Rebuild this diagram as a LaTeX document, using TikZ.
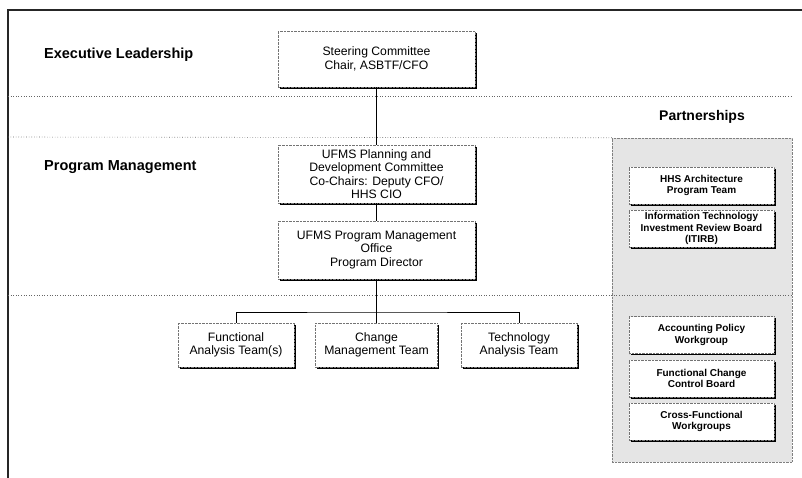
\documentclass[tikz,border=0pt]{standalone}
\usepackage{fontspec}
\setmainfont{Liberation Sans}
\usetikzlibrary{shadows}
\begin{document}
\begin{tikzpicture}[x=1pt,y=-1pt,
  frameline/.style={line width=1.1pt,black!85},
  sepline/.style={line width=0.6pt,black!60,dotted},
  orgbox/.style={draw=black!55,densely dotted,fill=white,align=center,inner sep=1pt,
     drop shadow={shadow xshift=1.8pt,shadow yshift=-1.8pt,fill=black,opacity=1},
     font=\fontsize{12.2}{13.3}\selectfont},
  teambox/.style={orgbox,minimum width=116pt,minimum height=44pt,font=\fontsize{12.2}{12.5}\selectfont},
  partbox/.style={orgbox,minimum width=145pt,minimum height=37pt,font=\bfseries\fontsize{10}{11.5}\selectfont},
  level/.style={anchor=west,inner sep=0pt,font=\bfseries\fontsize{14.5}{16}\selectfont},
  conn/.style={line width=0.9pt,black}]
\useasboundingbox (0,0) rectangle (802,478);
% frame
\coordinate (tl) at (8,10);
\coordinate (tr) at (802,10);
\coordinate (bl) at (8,478);
\draw[frameline] (tr) -- (tl) -- (bl);
% partnership panel
\node[draw=black!50,densely dotted,fill=black!10,minimum width=180pt,minimum height=324pt,inner sep=0pt] (panel) at (702,300) {};
% separator lines
\draw[sepline] (8,96) -- (793,96);
\draw[sepline] (8,137) -- (panel.north west);
\draw[sepline] (8,295) -- (791,295);
% level labels
\node[level] (exec) at (44,55) {Executive Leadership};
\node[level] (prog) at (44,167) {Program Management};
\node[font=\bfseries\fontsize{14}{16}\selectfont] (partn) at (702,117) {Partnerships};
% main boxes
\node[orgbox,minimum width=197pt,minimum height=56pt] (steer) at (376.5,59) {Steering Committee\\Chair, ASBTF/CFO};
\node[orgbox,minimum width=197pt,minimum height=58pt] (plan) at (376.5,174) {UFMS Planning and\\Development Committee\\Co-Chairs: Deputy CFO/\\HHS CIO};
\node[orgbox,minimum width=197pt,minimum height=58pt] (pmo) at (376.5,250) {UFMS Program Management\\Office\\Program Director};
\node[teambox] (func) at (236,345) {Functional\\Analysis Team(s)};
\node[teambox,minimum width=122pt] (chg) at (376.5,345) {Change\\Management Team};
\node[teambox] (tech) at (519,345) {Technology\\Analysis Team};
% partnership boxes
\node[partbox] (hhs) at (701.5,185.5) {HHS Architecture\\Program Team};
\node[partbox] (itirb) at (701.5,228.5) {Information Technology\\Investment Review Board\\(ITIRB)};
\node[partbox] (acct) at (701.5,335) {Accounting Policy\\Workgroup};
\node[partbox] (fccb) at (701.5,378.5) {Functional Change\\Control Board};
\node[partbox] (cross) at (701.5,421.5) {Cross-Functional\\Workgroups};
% connectors
\coordinate (split) at (376.5,312);
\draw[conn] (steer.south) -- (plan.north);
\draw[conn] (plan.south) -- (pmo.north);
\draw[conn] (pmo.south) -- (split);
\draw[conn] (func.north) |- (split) -| (tech.north);
\draw[conn] (split) -- (chg.north);
\end{tikzpicture}
\end{document}
